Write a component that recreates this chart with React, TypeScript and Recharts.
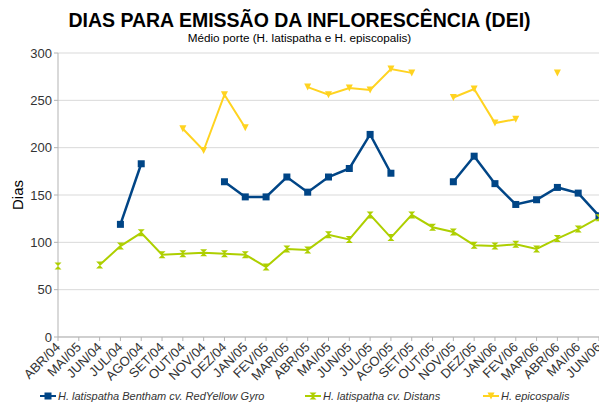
import React from 'react';
import { LineChart, Line, XAxis, YAxis, CartesianGrid } from 'recharts';

const months = [
  'ABR/04', 'MAI/05', 'JUN/04', 'JUL/04', 'AGO/04', 'SET/04', 'OUT/04', 'NOV/04', 'DEZ/04',
  'JAN/05', 'FEV/05', 'MAR/05', 'ABR/05', 'MAI/05', 'JUN/05', 'JUL/05', 'AGO/05', 'SET/05',
  'OUT/05', 'NOV/05', 'DEZ/05', 'JAN/06', 'FEV/06', 'MAR/06', 'ABR/06', 'MAI/06', 'JUN/06',
];

const redYellow = [
  null, null, null, 119, 183, null, null, null, 164,
  148, 148, 169, 153, 169, 178, 214, 173, null,
  null, 164, 191, 162, 140, 145, 158, 152, 128,
];

const distans = [
  75, null, 76, 96, 110, 87, 88, 89, 88,
  87, 74, 93, 92, 108, 103, 129, 105, 129,
  116, 111, 97, 96, 98, 93, 104, 114, 126,
];

const epicospalis = [
  null, null, null, null, null, null, 220, 197, 256,
  221, null, null, 264, 256, 263, 261, 283, 279,
  null, 253, 262, 226, 230, null, 279, null, null,
];

const yTicks = [0, 50, 100, 150, 200, 250, 300];

const data = months.map((m, i) => ({
  month: m,
  redYellow: redYellow[i],
  distans: distans[i],
  epicospalis: epicospalis[i],
}));

const BLUE = '#004586';
const GREEN = '#aecf00';
const YELLOW = '#ffd320';
const FONT = '"Liberation Sans", Arial, sans-serif';

const SquareDot = (props: any) => {
  const { cx, cy, index, value } = props;
  if (value == null || cx == null || cy == null) return <g key={index} />;
  return <rect key={index} x={cx - 3.5} y={cy - 3.5} width={7} height={7} fill={BLUE} />;
};

const BowDot = (props: any) => {
  const { cx, cy, index, value } = props;
  if (value == null || cx == null || cy == null) return <g key={index} />;
  const s = 3.5;
  return (
    <path
      key={index}
      d={`M${cx - s},${cy - s}L${cx + s},${cy - s}L${cx - s},${cy + s}L${cx + s},${cy + s}Z`}
      fill={GREEN}
    />
  );
};

const TriDot = (props: any) => {
  const { cx, cy, index, value } = props;
  if (value == null || cx == null || cy == null) return <g key={index} />;
  const s = 3.5;
  return (
    <path key={index} d={`M${cx - s},${cy - s}L${cx + s},${cy - s}L${cx},${cy + s}Z`} fill={YELLOW} />
  );
};

const XTick = (props: any) => {
  const { x, y, payload } = props;
  return (
    <text
      x={x + 3}
      y={y + 5}
      textAnchor="end"
      fontSize={13}
      fontFamily={FONT}
      fill="#333"
      transform={`rotate(-45 ${x + 3} ${y + 5})`}
    >
      {payload.value}
    </text>
  );
};

const legendItems = [
  { label: 'H. latispatha Bentham cv. RedYellow Gyro', color: BLUE, left: 40, shape: 'square' },
  { label: 'H. latispatha cv. Distans', color: GREEN, left: 305, shape: 'bow' },
  { label: 'H. epicospalis', color: YELLOW, left: 483, shape: 'tri' },
];

const LegendIcon = ({ color, shape }: { color: string; shape: string }) => (
  <svg width={16} height={10} style={{ marginRight: 2 }}>
    <line x1={0} y1={5} x2={16} y2={5} stroke={color} strokeWidth={2} />
    {shape === 'square' && <rect x={4.5} y={1.5} width={7} height={7} fill={color} />}
    {shape === 'bow' && <path d="M4.5,1.5L11.5,1.5L4.5,8.5L11.5,8.5Z" fill={color} />}
    {shape === 'tri' && <path d="M4.5,1.5L11.5,1.5L8,8.5Z" fill={color} />}
  </svg>
);

export default function App() {
  return (
    <div style={{ position: 'absolute', left: 0, top: 0, width: 599, height: 403, background: '#fff', fontFamily: FONT }}>
      <div style={{ position: 'absolute', left: 0, width: 599, top: 11, lineHeight: 1, textAlign: 'center', fontSize: 19.5, fontWeight: 'bold', color: '#000' }}>
        DIAS PARA EMISSÃO DA INFLORESCÊNCIA (DEI)
      </div>
      <div style={{ position: 'absolute', left: 0, width: 599, top: 32, lineHeight: 1, textAlign: 'center', fontSize: 11.7, color: '#000' }}>
        Médio porte (H. latispatha e H. episcopalis)
      </div>
      <div
        style={{
          position: 'absolute',
          left: 17,
          top: 195,
          fontSize: 15,
          lineHeight: 1,
          color: '#000',
          transform: 'translate(-50%, -50%) rotate(-90deg)',
          whiteSpace: 'nowrap',
        }}
      >
        Dias
      </div>
      <LineChart width={599} height={403} data={data} margin={{ top: 53, right: 0, bottom: 36, left: 18 }}>
        <CartesianGrid vertical={false} stroke="#d9d9d9" />
        <XAxis
          dataKey="month"
          interval={0}
          height={30}
          padding={{ left: 0, right: 0 }}
          stroke="#b3b3b3"
          tickSize={4}
          tick={<XTick />}
        />
        <YAxis
          domain={[0, 300]}
          ticks={yTicks}
          width={40}
          stroke="#b3b3b3"
          tickSize={4}
          tick={{ fontSize: 13, fill: '#333', fontFamily: FONT }}
        />
        <Line dataKey="redYellow" stroke={BLUE} strokeWidth={2.5} dot={<SquareDot />} isAnimationActive={false} />
        <Line dataKey="distans" stroke={GREEN} strokeWidth={2} dot={<BowDot />} isAnimationActive={false} />
        <Line dataKey="epicospalis" stroke={YELLOW} strokeWidth={2} dot={<TriDot />} isAnimationActive={false} />
      </LineChart>
      {legendItems.map((it) => (
        <div
          key={it.label}
          style={{
            position: 'absolute',
            left: it.left,
            top: 390,
            display: 'flex',
            alignItems: 'center',
            fontSize: 11,
            fontStyle: 'italic',
            color: '#333',
            whiteSpace: 'nowrap',
          }}
        >
          <LegendIcon color={it.color} shape={it.shape} />
          {it.label}
        </div>
      ))}
    </div>
  );
}
